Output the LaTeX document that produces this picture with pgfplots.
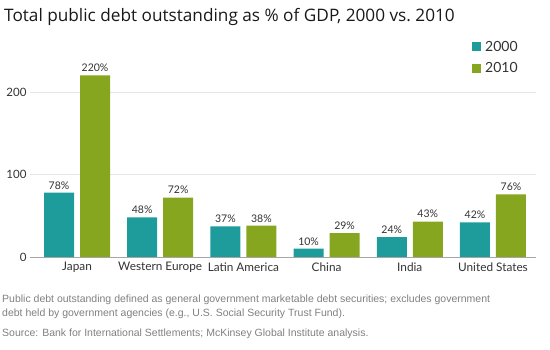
\documentclass[border=0pt]{standalone}
\usepackage{pgfplots}
\pgfplotsset{compat=1.18}
\usepackage{fontspec}
\setmainfont{Open Sans}
\newfontfamily\latofont{Lato}
\newfontfamily\notefont{Liberation Sans}
\definecolor{tealA}{HTML}{1E9B9B}
\definecolor{greenB}{HTML}{85A61E}
\definecolor{labelgray}{HTML}{333333}
\definecolor{notegray}{HTML}{808080}
\definecolor{gridgray}{HTML}{E6E6E6}
\begin{document}
\begin{tikzpicture}
\path[use as bounding box] (0pt,0pt) rectangle (550pt,-350pt);
\node[anchor=west, inner sep=0pt, font=\fontsize{17.2}{20}\selectfont, text=black!90] at (4pt,-17pt) {Total public debt outstanding as \% of GDP, 2000 vs.\ 2010};
\begin{axis}[
  at={(30pt,-257pt)}, anchor=south west,
  scale only axis, width=506pt, height=214.5pt,
  xmin=-0.565, xmax=5.517, ymin=0, ymax=260,
  ybar=6pt, bar width=30pt,
  axis x line=bottom, axis y line=left,
  axis line style={-, draw=gray!70},
  y axis line style={draw=none},
  major tick length=0pt,
  xtick={0,1,2,3,4,5},
  xticklabels={Japan, Western Europe, Latin America, China, India, United States},
  ytick={0,100,200},
  ymajorgrids, grid style={draw=gridgray, line width=0.8pt},
  xticklabel style={font=\latofont\fontsize{11.8}{14}\selectfont, text=labelgray, yshift=-2pt},
  yticklabel style={font=\latofont\fontsize{11.5}{13}\selectfont, text=labelgray},
  /pgf/number format/assume math mode=true,
  nodes near coords={\pgfmathprintnumber{\pgfplotspointmeta}\%},
  every node near coord/.append style={font=\latofont\fontsize{10.5}{12}\selectfont, text=labelgray},
  legend image code/.code={\fill[#1] (0pt,-4.5pt) rectangle (9pt,4.5pt);},
  legend style={at={(0.8735,1.012)}, anchor=north west, draw=none, fill=none,
    inner sep=0pt, row sep=8pt, font=\latofont\fontsize{14}{16}\selectfont,
    nodes={inner xsep=4pt, inner ysep=1pt, anchor=west, text=labelgray}},
  legend cell align=left,
]
\addplot[fill=tealA, draw=none] coordinates {(0,78) (1,48) (2,37) (3,10) (4,24) (5,42)};
\addplot[fill=greenB, draw=none] coordinates {(0,220) (1,72) (2,38) (3,29) (4,43) (5,76)};
\legend{2000,2010}
\end{axis}
\node[anchor=north west, inner sep=0pt, align=left, text=notegray, font=\notefont\fontsize{10.5}{14}\selectfont] at (2pt,-294.5pt) {Public debt outstanding defined as general government marketable debt securities; excludes government\\debt held by government agencies (e.g., U.S. Social Security Trust Fund).};
\node[anchor=north west, inner sep=0pt, text=notegray, font=\notefont\fontsize{10.5}{14}\selectfont] at (2pt,-329pt) {Source: Bank for International Settlements; McKinsey Global Institute analysis.};
\end{tikzpicture}
\end{document}
